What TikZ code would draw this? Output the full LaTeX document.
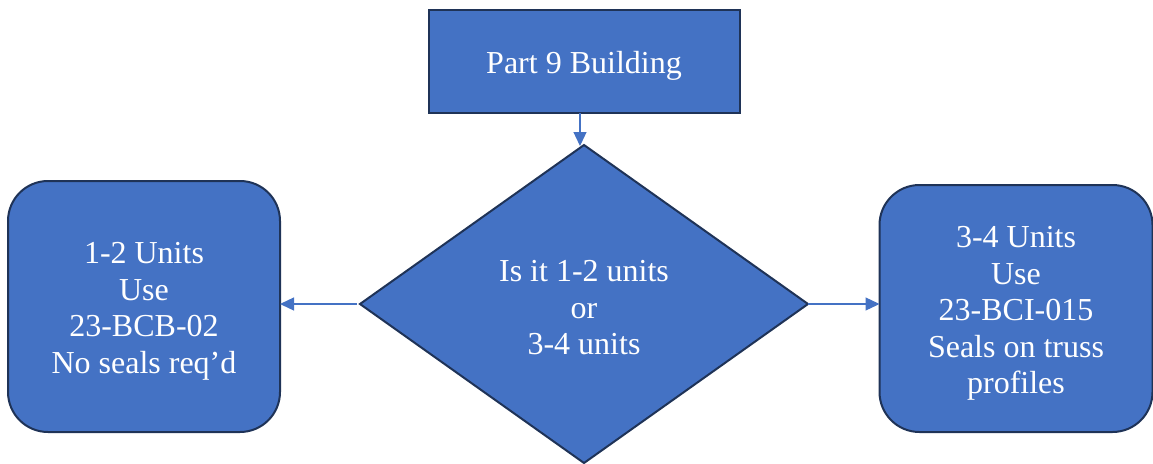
\documentclass[tikz,border=0pt]{standalone}
\usepackage{fontspec}
\setmainfont{Liberation Serif}
\usetikzlibrary{shapes.geometric,arrows.meta}
\definecolor{boxfill}{HTML}{4472C4}
\definecolor{boxedge}{HTML}{1F3357}
\tikzset{
  box/.style={draw=boxedge, fill=boxfill, line width=2pt, inner sep=0pt, outer sep=0pt},
  boxtext/.style={text=white, align=center, font=\fontsize{32}{36.5}\selectfont, inner sep=0pt},
  roundbox/.style={box, rounded corners=40pt},
  decision/.style={box, diamond, aspect=1.41},
  conn/.style={draw=boxfill, line width=1.3pt, -{Triangle[length=14pt,width=13pt]}}
}
\begin{document}
\begin{tikzpicture}[x=1pt,y=-1pt]
\useasboundingbox (0,0) rectangle (1153,463);
\clip (0,0) rectangle (1153,463);
\node[box, minimum width=311pt, minimum height=103pt] (top) at (584,61.5) {};
\node[boxtext] (toptext) at (584,66) {Part 9 Building};
\node[decision, minimum width=448pt, minimum height=318pt] (dec) at (584,304) {};
\node[boxtext] (dectext) at (584,308) {Is it 1-2 units\\or\\3-4 units};
\node[roundbox, minimum width=272pt, minimum height=251pt] (left) at (144,306.5) {};
\node[boxtext] (lefttext) at (144,311.5) {1-2 Units\\Use\\23-BCB-02\\No seals req’d};
\node[roundbox, minimum width=273pt, minimum height=247pt] (right) at (1016,308.5) {};
\node[boxtext] (righttext) at (1016,313.5) {3-4 Units\\Use\\23-BCI-015\\Seals on truss\\profiles};
\draw[conn] ([xshift=-4pt]top.south) -- ([xshift=-4pt,yshift=-1pt]dec.north);
\draw[conn] ([xshift=-3pt]dec.west) -- (left.east |- dec.west);
\draw[conn] (dec.east) -- (right.west |- dec.east);
\end{tikzpicture}
\end{document}
